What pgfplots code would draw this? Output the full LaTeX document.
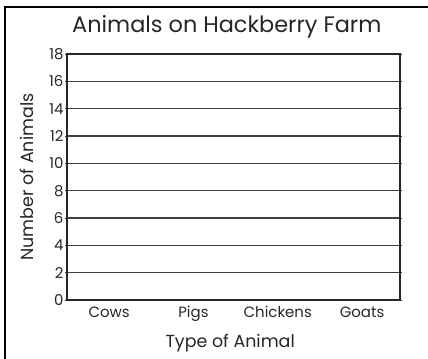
\documentclass[border=0pt]{standalone}
\usepackage{pgfplots}
\pgfplotsset{compat=1.18}
\usepackage{fontspec}
\setmainfont{Poppins}
\begin{document}
\begin{tikzpicture}[x=1bp,y=1bp]
\useasboundingbox (0,0) rectangle (428,359);
\draw[line width=2bp] (5.5,0) -- (5.5,352) -- (428,352);
\begin{axis}[
  at={(67bp,59bp)}, anchor=south west,
  scale only axis, width=333bp, height=246bp,
  xmin=-0.5, xmax=3.45, ymin=0, ymax=18,
  xtick={0,1,2,3}, xticklabels={Cows,Pigs,Chickens,Goats},
  ytick={0,2,...,18},
  ymajorgrids, grid style={line width=1.6bp, draw=black!75},
  axis line style={line width=1.5bp, draw=black!85},
  major x tick style={draw=none},
  major y tick style={line width=0.8bp, draw=black!80},
  tick align=outside, major tick length=2bp,
  /pgf/number format/assume math mode=true,
  tick label style={font=\fontsize{15}{17}\selectfont, text=black!85},
  yticklabel style={xshift=2bp},
  xticklabel style={yshift=-1bp},
  title={Animals on Hackberry Farm},
  title style={font=\fontsize{22.5}{26}\selectfont, text=black!85, at={(axis description cs:0.48,1.085)}, anchor=center},
  xlabel={Type of Animal},
  xlabel style={font=\fontsize{17.5}{20}\selectfont, text=black!85, at={(axis description cs:0.49,-0.175)}, anchor=center},
  ylabel={Number of Animals},
  ylabel style={font=\fontsize{17.5}{20}\selectfont, text=black!85, at={(axis description cs:-0.12,0.5)}, anchor=center},
]
\addplot[draw=none] coordinates {(0,0) (1,0) (2,0) (3,0)};
\end{axis}
\end{tikzpicture}
\end{document}
